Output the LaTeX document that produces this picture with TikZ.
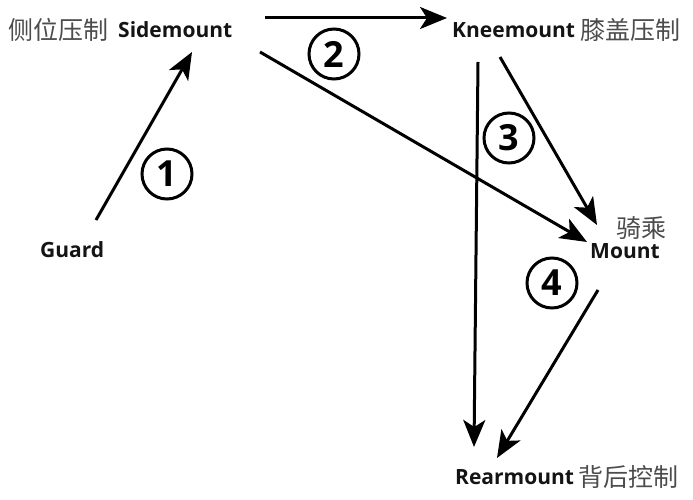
\documentclass[tikz,border=0pt]{standalone}
\usepackage{fontspec}
\setmainfont{Open Sans}
\newfontfamily\cjk{Noto Sans CJK SC}
\usetikzlibrary{arrows.meta}
\tikzset{
  lbl/.style={font=\fontsize{21}{23}\selectfont\bfseries, text=black!92, inner sep=0pt, anchor=west},
  cnlbl/.style={font=\cjk\fontsize{25}{27}\selectfont, text=black!70, inner sep=0pt},
  num/.style={circle, draw, line width=3pt, minimum size=50pt, inner sep=0pt, font=\fontsize{36}{38}\selectfont\bfseries},
  conn/.style={line width=3pt, -{Stealth[length=27pt,width=22pt,inset=7pt]}}
}
\begin{document}
\begin{tikzpicture}[x=1pt,y=-1pt]
\path[use as bounding box] (0,0) rectangle (693,500);
% labels
\node[cnlbl, anchor=west] (cside) at (8,30) {侧位压制};
\node[lbl] (side) at (118,30) {Sidemount};
\node[lbl] (knee) at (452,30) {Kneemount};
\node[cnlbl, anchor=west] (cknee) at (580,30) {膝盖压制};
\node[lbl] (guard) at (40,250) {Guard};
\node[cnlbl] (cmount) at (641,228) {骑乘};
\node[lbl] (mount) at (590,251) {Mount};
\node[lbl] (rear) at (455,477) {Rearmount};
\node[cnlbl, anchor=west] (crear) at (578,477) {背后控制};
% numbered circles
\node[num] (c1) at (167,174) {1};
\node[num] (c2) at (334,54) {2};
\node[num] (c3) at (509,138) {3};
\node[num] (c4) at (552,283) {4};
% connectors
\draw[conn] ([shift={(56,-30)}]guard.west) -- ([shift={(74,22)}]side.west);
\draw[conn] ([shift={(147,-12)}]side.west) -- ([shift={(-5,-12)}]knee.west);
\draw[conn] ([shift={(142,22)}]side.west) -- ([shift={(-3,-9)}]mount.west);
\draw[conn] ([shift={(48,27)}]knee.west) -- ([shift={(7,-26)}]mount.west);
\draw[conn] ([shift={(26,32)}]knee.west) -- ([shift={(19,-30)}]rear.west);
\draw[conn] ([shift={(8,39)}]mount.west) -- ([shift={(42,-19)}]rear.west);
\end{tikzpicture}
\end{document}
